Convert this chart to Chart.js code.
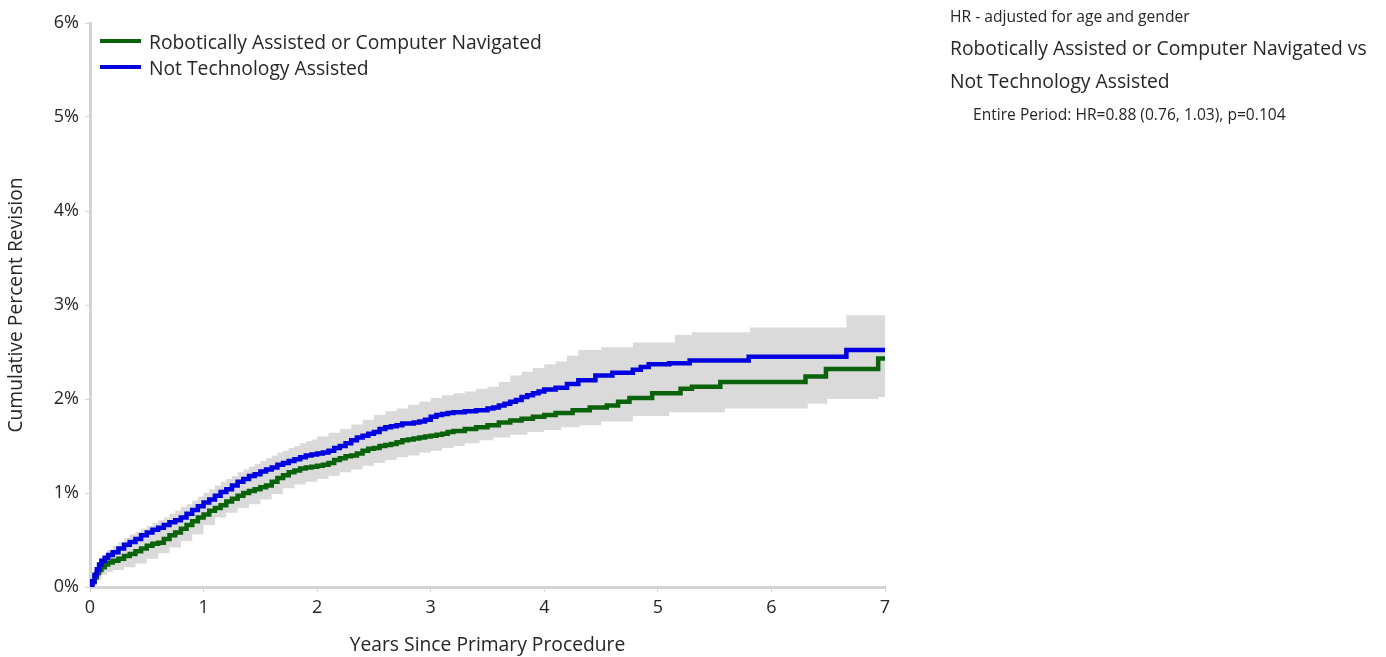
<!DOCTYPE html>
<html>
<head>
<meta charset="utf-8">
<script src="https://cdn.jsdelivr.net/npm/chart.js@4/dist/chart.umd.min.js"></script>
<style>
  html, body { margin: 0; padding: 0; background: #ffffff; }
  #wrap { position: relative; width: 1386px; height: 657px; overflow: hidden;
          font-family: "Open Sans", "Noto Sans", sans-serif; color: #262626; }
  #chart { position: absolute; left: 0; top: 0; }
  #legend { position: absolute; left: 100px; top: 28px; }
  .leg-row { display: flex; align-items: center; height: 26px; }
  .leg-swatch { width: 41px; height: 4px; margin-right: 8px; }
  .leg-text { font-size: 19.3px; white-space: nowrap; }
  #notes { position: absolute; left: 950px; top: 5px; white-space: nowrap; }
  .n-small { font-size: 15.6px; line-height: 22px; }
  .n-big { font-size: 19.3px; line-height: 33px; }
  .n-indent { padding-left: 23px; margin-top: 6px; }
</style>
</head>
<body>
<div id="wrap">
  <canvas id="chart" width="1386" height="657"></canvas>
  <div id="legend"></div>
  <div id="notes">
    <div class="n-small">HR - adjusted for age and gender</div>
    <div class="n-big" style="margin-top:4px">Robotically Assisted or Computer Navigated vs</div>
    <div class="n-big">Not Technology Assisted</div>
    <div class="n-small n-indent">Entire Period: HR=0.88 (0.76, 1.03), p=0.104</div>
  </div>
</div>
<script>
// Cumulative percent revision (Kaplan-Meier style step curves)
const seriesLabels = ["Robotically Assisted or Computer Navigated", "Not Technology Assisted"];
const seriesColors = ["#0a630a", "#0000e0"];

const roboticYears = [0, 0.02, 0.04, 0.06, 0.08, 0.10, 0.13, 0.16, 0.20, 0.25, 0.30, 0.35, 0.40, 0.45, 0.50,
  0.55, 0.60, 0.65, 0.70, 0.75, 0.80, 0.85, 0.90, 0.95, 1.00, 1.05, 1.10, 1.15, 1.20, 1.25, 1.30, 1.35,
  1.40, 1.45, 1.50, 1.55, 1.60, 1.65, 1.70, 1.75, 1.80, 1.85, 1.90, 1.95, 2.00, 2.05, 2.10, 2.15, 2.20,
  2.25, 2.30, 2.35, 2.40, 2.45, 2.50, 2.55, 2.60, 2.65, 2.70, 2.75, 2.80, 2.85, 2.90, 2.95, 3.00, 3.05,
  3.10, 3.15, 3.20, 3.30, 3.40, 3.50, 3.60, 3.70, 3.80, 3.90, 4.00, 4.10, 4.25, 4.40, 4.55, 4.65, 4.75,
  4.95, 5.20, 5.30, 5.55, 6.30, 6.48, 6.94, 7.00];
const roboticPct = [0, 0.05, 0.10, 0.15, 0.18, 0.21, 0.24, 0.26, 0.28, 0.30, 0.33, 0.35, 0.38, 0.41, 0.44,
  0.46, 0.47, 0.51, 0.55, 0.58, 0.62, 0.66, 0.70, 0.74, 0.77, 0.81, 0.84, 0.87, 0.91, 0.94, 0.97, 1.00,
  1.02, 1.04, 1.06, 1.08, 1.12, 1.16, 1.19, 1.22, 1.24, 1.26, 1.27, 1.28, 1.29, 1.30, 1.32, 1.35, 1.37,
  1.39, 1.40, 1.42, 1.45, 1.47, 1.48, 1.50, 1.51, 1.52, 1.54, 1.56, 1.57, 1.58, 1.59, 1.60, 1.61, 1.62,
  1.63, 1.65, 1.66, 1.68, 1.70, 1.72, 1.75, 1.77, 1.79, 1.81, 1.83, 1.85, 1.88, 1.91, 1.93, 1.97, 2.01,
  2.06, 2.11, 2.13, 2.18, 2.24, 2.32, 2.43, 2.43];

const notTechYears = [0, 0.02, 0.04, 0.06, 0.08, 0.10, 0.13, 0.16, 0.20, 0.25, 0.30, 0.35, 0.40, 0.45, 0.50,
  0.55, 0.60, 0.65, 0.70, 0.75, 0.80, 0.85, 0.90, 0.95, 1.00, 1.05, 1.10, 1.15, 1.20, 1.25, 1.30, 1.35,
  1.40, 1.45, 1.50, 1.55, 1.60, 1.65, 1.70, 1.75, 1.80, 1.85, 1.90, 1.95, 2.00, 2.05, 2.10, 2.15, 2.20,
  2.25, 2.30, 2.35, 2.40, 2.45, 2.50, 2.55, 2.60, 2.65, 2.70, 2.75, 2.80, 2.85, 2.90, 2.95, 3.00, 3.05,
  3.10, 3.15, 3.20, 3.30, 3.40, 3.50, 3.55, 3.60, 3.65, 3.70, 3.75, 3.80, 3.85, 3.90, 3.95, 4.00, 4.10,
  4.20, 4.30, 4.45, 4.60, 4.78, 4.85, 4.92, 5.10, 5.28, 5.80, 6.66, 7.00];
const notTechPct = [0, 0.06, 0.13, 0.19, 0.24, 0.28, 0.31, 0.34, 0.37, 0.41, 0.45, 0.48, 0.51, 0.55, 0.58,
  0.61, 0.63, 0.66, 0.69, 0.71, 0.74, 0.78, 0.82, 0.86, 0.90, 0.93, 0.97, 1.01, 1.04, 1.08, 1.12, 1.15,
  1.18, 1.20, 1.23, 1.25, 1.27, 1.30, 1.32, 1.34, 1.36, 1.38, 1.40, 1.41, 1.42, 1.43, 1.45, 1.48, 1.50,
  1.53, 1.56, 1.59, 1.61, 1.63, 1.65, 1.68, 1.70, 1.71, 1.72, 1.74, 1.74, 1.75, 1.76, 1.78, 1.81, 1.83,
  1.84, 1.85, 1.86, 1.87, 1.88, 1.90, 1.91, 1.93, 1.95, 1.97, 1.99, 2.02, 2.04, 2.06, 2.08, 2.10, 2.12,
  2.16, 2.20, 2.25, 2.28, 2.31, 2.34, 2.37, 2.38, 2.41, 2.45, 2.52, 2.52];

// Confidence band around the robotically assisted curve
const bandUpperYears = [0, 0.02, 0.04, 0.06, 0.08, 0.10, 0.15, 0.20, 0.25, 0.30, 0.35, 0.40, 0.45, 0.50,
  0.55, 0.60, 0.65, 0.70, 0.75, 0.80, 0.85, 0.90, 0.95, 1.00, 1.05, 1.10, 1.15, 1.20, 1.25, 1.30, 1.35,
  1.40, 1.45, 1.50, 1.55, 1.60, 1.65, 1.70, 1.75, 1.80, 1.85, 1.90, 1.95, 2.00, 2.10, 2.20, 2.30, 2.40,
  2.50, 2.60, 2.70, 2.80, 2.90, 3.00, 3.10, 3.20, 3.30, 3.40, 3.50, 3.60, 3.70, 3.80, 3.90, 4.00, 4.10,
  4.20, 4.30, 4.50, 4.78, 5.15, 5.30, 5.81, 6.66, 7.00];
const bandUpperPct = [0, 0.10, 0.18, 0.24, 0.29, 0.33, 0.39, 0.44, 0.48, 0.52, 0.56, 0.59, 0.62, 0.65,
  0.68, 0.71, 0.74, 0.78, 0.81, 0.85, 0.88, 0.92, 0.96, 1.00, 1.04, 1.08, 1.12, 1.15, 1.18, 1.22, 1.25,
  1.28, 1.31, 1.34, 1.37, 1.40, 1.43, 1.45, 1.48, 1.50, 1.53, 1.55, 1.57, 1.60, 1.64, 1.68, 1.73, 1.78,
  1.83, 1.87, 1.90, 1.94, 1.97, 2.01, 2.04, 2.06, 2.08, 2.11, 2.13, 2.18, 2.25, 2.29, 2.33, 2.37, 2.40,
  2.46, 2.52, 2.55, 2.60, 2.68, 2.71, 2.76, 2.89, 2.89];
const bandLowerYears = [0, 0.05, 0.10, 0.15, 0.20, 0.30, 0.40, 0.50, 0.60, 0.70, 0.80, 0.90, 1.00, 1.10,
  1.20, 1.30, 1.40, 1.50, 1.60, 1.70, 1.80, 1.90, 2.00, 2.10, 2.20, 2.30, 2.40, 2.50, 2.60, 2.70, 2.80,
  2.90, 3.00, 3.10, 3.20, 3.30, 3.43, 3.55, 3.70, 3.85, 4.00, 4.15, 4.31, 4.50, 4.78, 5.10, 5.59, 6.32,
  6.49, 6.94, 7.00];
const bandLowerPct = [0, 0.08, 0.13, 0.16, 0.18, 0.21, 0.25, 0.30, 0.36, 0.42, 0.49, 0.56, 0.66, 0.74,
  0.79, 0.84, 0.88, 0.93, 0.99, 1.05, 1.09, 1.12, 1.15, 1.18, 1.22, 1.25, 1.29, 1.32, 1.35, 1.38, 1.40,
  1.43, 1.45, 1.48, 1.50, 1.53, 1.56, 1.59, 1.62, 1.65, 1.67, 1.70, 1.72, 1.76, 1.82, 1.86, 1.90, 1.95,
  2.00, 2.02, 2.02];

const xTickValues = [0, 1, 2, 3, 4, 5, 6, 7];
const yTickValues = [0, 1, 2, 3, 4, 5, 6];

const toPoints = (xs, ys) => xs.map((x, i) => ({ x: x, y: ys[i] }));

const fontFamily = '"Open Sans", "Noto Sans", sans-serif';
const textColor = '#262626';
const axisGray = '#d4d4d4';
const bandGray = '#dadada';

// Legend in the top-left corner of the plot
const legendEl = document.getElementById('legend');
seriesLabels.forEach((label, i) => {
  const row = document.createElement('div');
  row.className = 'leg-row';
  const sw = document.createElement('div');
  sw.className = 'leg-swatch';
  sw.style.background = seriesColors[i];
  const tx = document.createElement('div');
  tx.className = 'leg-text';
  tx.textContent = label;
  row.appendChild(sw);
  row.appendChild(tx);
  legendEl.appendChild(row);
});

new Chart(document.getElementById('chart'), {
  type: 'line',
  data: {
    datasets: [
      {
        label: 'upper',
        data: toPoints(bandUpperYears, bandUpperPct),
        stepped: true,
        borderWidth: 0,
        pointRadius: 0,
        fill: '+1',
        backgroundColor: bandGray,
        order: 5
      },
      {
        label: 'lower',
        data: toPoints(bandLowerYears, bandLowerPct),
        stepped: true,
        borderWidth: 0,
        pointRadius: 0,
        fill: false,
        order: 6
      },
      {
        label: seriesLabels[0],
        data: toPoints(roboticYears, roboticPct),
        stepped: true,
        borderColor: seriesColors[0],
        borderWidth: 4.5,
        pointRadius: 0,
        fill: false,
        order: 2
      },
      {
        label: seriesLabels[1],
        data: toPoints(notTechYears, notTechPct),
        stepped: true,
        borderColor: seriesColors[1],
        borderWidth: 4.5,
        pointRadius: 0,
        fill: false,
        order: 1
      }
    ]
  },
  options: {
    responsive: false,
    animation: false,
    events: [],
    layout: { padding: { left: 0, top: 23, right: 501, bottom: 0 } },
    plugins: {
      legend: { display: false },
      tooltip: { enabled: false }
    },
    scales: {
      x: {
        type: 'linear',
        min: 0,
        max: 7,
        afterBuildTicks: (s) => { s.ticks = xTickValues.map(v => ({ value: v })); },
        afterFit: (s) => { s.height = 70; },
        ticks: {
          color: textColor,
          font: { family: fontFamily, size: 18 },
          padding: 5,
          maxRotation: 0
        },
        grid: { drawOnChartArea: false, drawTicks: true, tickLength: 5, color: axisGray, lineWidth: 1 },
        border: { display: true, color: axisGray, width: 3 },
        title: {
          display: true,
          text: 'Years Since Primary Procedure',
          color: textColor,
          font: { family: fontFamily, size: 19.3 },
          padding: { top: 0, bottom: 0 }
        }
      },
      y: {
        type: 'linear',
        min: 0,
        max: 6,
        afterBuildTicks: (s) => { s.ticks = yTickValues.map(v => ({ value: v })); },
        afterFit: (s) => { s.width = 90; },
        ticks: {
          color: textColor,
          font: { family: fontFamily, size: 18 },
          padding: 6,
          callback: (v) => v + '%'
        },
        grid: { drawOnChartArea: false, drawTicks: true, tickLength: 5, color: axisGray, lineWidth: 1 },
        border: { display: true, color: axisGray, width: 3 },
        title: {
          display: true,
          text: 'Cumulative Percent Revision',
          color: textColor,
          font: { family: fontFamily, size: 19.3 },
          padding: { top: 5, bottom: 0 }
        }
      }
    }
  }
});
</script>
</body>
</html>
